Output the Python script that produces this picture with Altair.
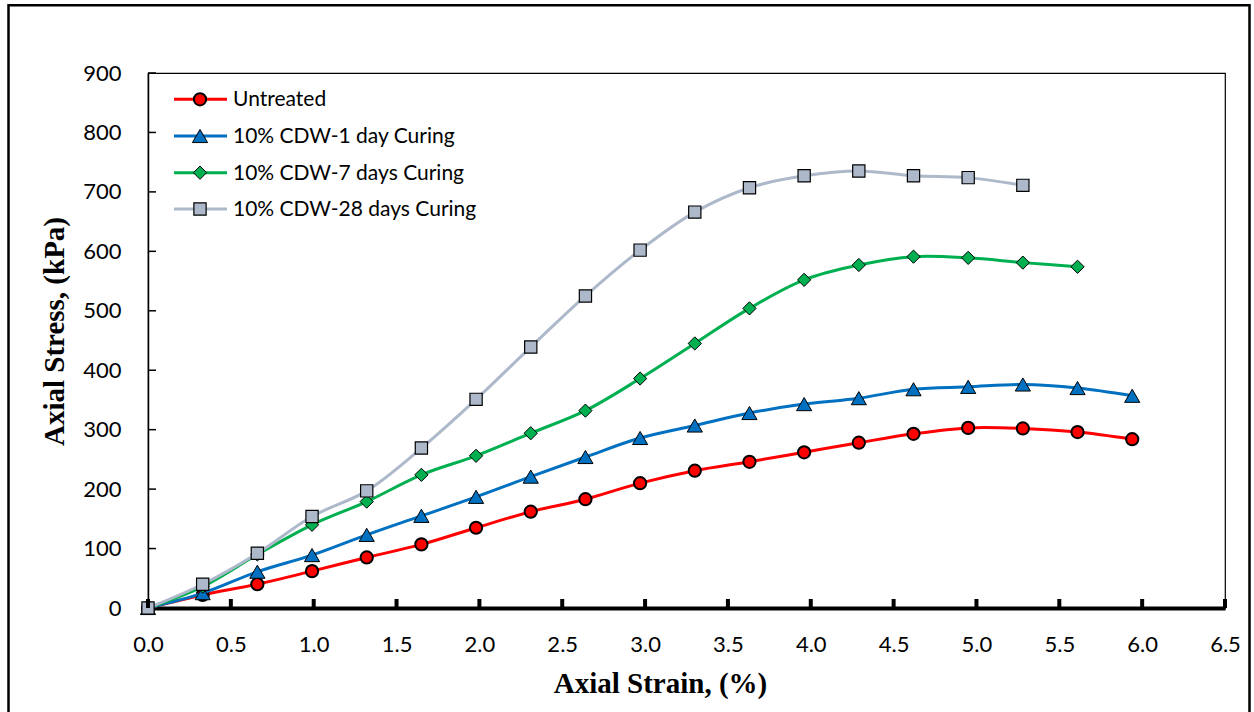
import altair as alt
import pandas as pd

# ---- data ----
strain = [0.00, 0.33, 0.66, 0.99, 1.32, 1.65, 1.98, 2.31, 2.64, 2.97,
          3.30, 3.63, 3.96, 4.29, 4.62, 4.95, 5.28, 5.61, 5.94]
untreated = [0, 22, 40, 62, 85, 107, 135, 162, 183, 210, 231, 246, 262, 278, 293, 303, 302, 296, 284]
cdw_1d = [0, 25, 61, 89, 123, 155, 187, 221, 254, 286, 307, 328, 343, 353, 368, 372, 376, 370, 357]
cdw_7d = [0, 36, 90, 140, 179, 224, 256, 294, 332, 386, 445, 504, 552, 577, 591, 589, 581, 574]
cdw_28d = [0, 40, 92, 154, 197, 269, 351, 439, 525, 602, 666, 707, 727, 735, 727, 724, 711]

series_names = ["Untreated", "10% CDW-1 day Curing", "10% CDW-7 days Curing", "10% CDW-28 days Curing"]
series_values = [untreated, cdw_1d, cdw_7d, cdw_28d]
series_colors = ["#FF0000", "#0070C0", "#00B050", "#ADB9CA"]
series_shapes = ["circle", "triangle-up", "diamond", "square"]
marker_sizes = [150, 230, 175, 150]
marker_strokes = [2.0, 1.0, 1.0, 1.2]

x_ticks = [0.0, 0.5, 1.0, 1.5, 2.0, 2.5, 3.0, 3.5, 4.0, 4.5, 5.0, 5.5, 6.0, 6.5]
y_ticks = [0, 100, 200, 300, 400, 500, 600, 700, 800, 900]

W, H = 1077, 535
LABEL_FONT = "Lato"
TITLE_FONT = "Liberation Serif"

xscale = alt.Scale(domain=[0, 6.5], nice=False, zero=False)
yscale = alt.Scale(domain=[0, 900], nice=False)

x_axis = alt.Axis(
    values=x_ticks, format=".1f", tickSize=0, labelPadding=26,
    domainWidth=4, domainColor="black", grid=False,
    labelFont=LABEL_FONT, labelFontSize=22, labelColor="black",
    labelFlush=False, labelOverlap=False,
    title="Axial Strain, (%)", titleFont=TITLE_FONT, titleFontSize=29,
    titleFontWeight="bold", titleColor="black",
    titleX=512, titleY=84, titleAlign="center", titleBaseline="alphabetic",
)
y_axis = alt.Axis(
    values=y_ticks, tickSize=0, labelPadding=27,
    domainWidth=1.5, domainColor="black", grid=False,
    labelFont=LABEL_FONT, labelFontSize=22, labelColor="black",
    labelFlush=False, labelOverlap=False,
    title="Axial Stress, (kPa)", titleFont=TITLE_FONT, titleFontSize=29,
    titleFontWeight="bold", titleColor="black", titleAngle=270,
    titleX=-85, titleY=258, titleAlign="center", titleBaseline="alphabetic",
)

def X():
    return alt.X("strain:Q", scale=xscale, axis=x_axis)

def Y():
    return alt.Y("stress:Q", scale=yscale, axis=y_axis)

layers = []

# series: line then markers, in Excel drawing order
for i, (name, vals) in enumerate(zip(series_names, series_values)):
    df = pd.DataFrame({"strain": strain[:len(vals)], "stress": vals, "series": name})
    base = alt.Chart(df)
    line = base.mark_line(color=series_colors[i], strokeWidth=3, interpolate="catmull-rom").encode(x=X(), y=Y())
    pts = base.mark_point(
        shape=series_shapes[i], filled=True, fill=series_colors[i], stroke="black",
        strokeWidth=marker_strokes[i], size=marker_sizes[i], opacity=1,
    ).encode(x=X(), y=Y())
    layers += [line, pts]

# inward tick marks
xt = alt.Chart(pd.DataFrame({"strain": x_ticks})).mark_rule(color="black", strokeWidth=4).encode(
    x=X(), y=alt.value(H - 9), y2=alt.value(H))
yt = alt.Chart(pd.DataFrame({"stress": y_ticks[1:]})).mark_rule(color="black", strokeWidth=1.5).encode(
    y=Y(), x=alt.value(0), x2=alt.value(8))
layers += [xt, yt]

# legend (inside, top-left)
row_y = [26.3, 63, 99.7, 136]
for i, name in enumerate(series_names):
    ld = pd.DataFrame({"series": [name]})
    lb = alt.Chart(ld)
    layers.append(lb.mark_rule(color=series_colors[i], strokeWidth=3).encode(
        x=alt.value(26), x2=alt.value(79), y=alt.value(row_y[i])))
    layers.append(lb.mark_point(
        shape=series_shapes[i], filled=True, fill=series_colors[i], stroke="black",
        strokeWidth=marker_strokes[i], size=marker_sizes[i], opacity=1,
    ).encode(x=alt.value(52), y=alt.value(row_y[i])))
    layers.append(lb.mark_text(align="left", baseline="middle", font=LABEL_FONT, fontSize=21, color="black").encode(
        x=alt.value(85), y=alt.value(row_y[i] + 1), text=alt.Text("series:N")))

# outer figure frame (decoration)
frame = alt.Chart(pd.DataFrame({"k": [0]})).mark_rect(
    fill="transparent", stroke="black", strokeWidth=2.5
).encode(x=alt.value(-139.5), x2=alt.value(1101.5), y=alt.value(-67.7), y2=alt.value(650))
layers.append(frame)

chart = alt.layer(*layers).properties(
    width=W, height=H,
    padding={"left": 148, "top": 73, "right": 29, "bottom": 104},
    autosize=alt.AutoSizeParams(type="none"),
    background="white",
).configure_view(stroke="black", strokeWidth=1.2)

chart.save("out.html", embed_options={"renderer": "svg", "actions": False})
